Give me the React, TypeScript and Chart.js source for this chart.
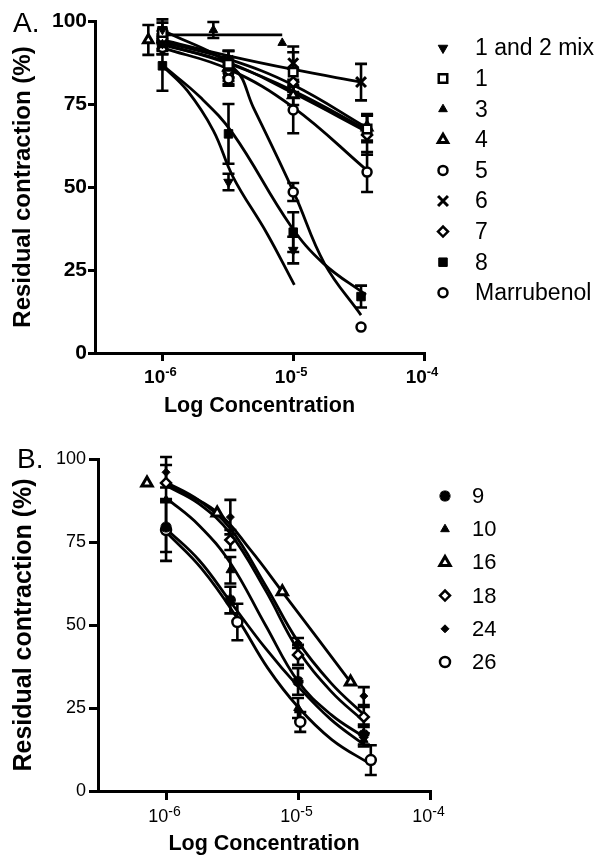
import React, { useEffect, useRef } from 'react';
import { Chart, registerables } from 'chart.js';
import { drawPoint } from 'chart.js/helpers';

Chart.register(...registerables);

const FONT = "'Liberation Sans', Arial, Helvetica, sans-serif";
Chart.defaults.font.family = FONT;
Chart.defaults.color = '#000';

// ---------- shared axis data ----------
const X_MIN = 3.05e-7;
const X_MAX = 1e-4;
const X_TICKS = [1e-6, 1e-5, 1e-4];
const X_TICK_BASE = '10';
const X_TICK_EXP = ['-6', '-5', '-4'];
const Y_TICKS = [0, 25, 50, 75, 100];
const Y_TITLE = 'Residual contraction (%)';
const X_TITLE = 'Log Concentration';

// ---------- Panel A data ----------
const A_MIX_X = [1e-6, 3.2e-6, 1e-5];
const A_MIX_Y = [97.5, 51.5, 31];
const A_MIX_ERR = [3, 2.5, 4];
const A_MIX_FIT_X = [1e-6, 1.55e-6, 2.45e-6, 3.47e-6, 6.3e-6, 1.02e-5];
const A_MIX_FIT_Y = [86.5, 79, 67, 53, 36, 20.5];

const A_C1_X = [1e-6, 3.2e-6, 1e-5, 3.67e-5];
const A_C1_Y = [96.5, 87, 84.6, 67.5];
const A_C1_ERR = [3, 4, 6, 4];
const A_C1_FIT_X = [1e-6, 3.2e-6, 1e-5, 3.67e-5];
const A_C1_FIT_Y = [93.7, 88.5, 80.7, 67.8];

const A_C3_X = [1e-6, 2.45e-6, 8.24e-6];
const A_C3_Y = [93, 97.3, 93.4];
const A_C3_ERR = [3, 2.4, 0];
const A_C3_FIT_X = [1e-6, 8.24e-6];
const A_C3_FIT_Y = [95.8, 95.8];

const A_C4_X = [7.8e-7, 3.2e-6, 1e-5, 3.67e-5];
const A_C4_Y = [94.3, 86, 77.7, 68];
const A_C4_ERR = [4.5, 3, 3, 4];
const A_C4_FIT_X = [1e-6, 3.2e-6, 1e-5, 3.67e-5];
const A_C4_FIT_Y = [93.2, 87.2, 79, 67.2];

const A_C5_X = [1e-6, 3.2e-6, 1e-5, 3.3e-5];
const A_C5_Y = [95, 82.5, 48.5, 7.8];
const A_C5_ERR = [2, 2, 2.7, 0];
const A_C5_FIT_X = [1e-6, 3.48e-6, 4.95e-6, 1.02e-5, 1.73e-5, 3.3e-5];
const A_C5_FIT_Y = [97.3, 86, 74, 48, 27, 11.4];

const A_C6_X = [1e-6, 3.2e-6, 1e-5, 3.3e-5];
const A_C6_Y = [93, 88, 87.3, 81.6];
const A_C6_ERR = [2, 3, 5, 5.5];
const A_C6_FIT_X = [1e-6, 3.2e-6, 1e-5, 3.3e-5];
const A_C6_FIT_Y = [94.3, 89.5, 85.4, 81.6];

const A_C7_X = [1e-6, 3.2e-6, 1e-5, 3.67e-5];
const A_C7_Y = [93.5, 85, 81.6, 65.7];
const A_C7_ERR = [2, 3, 4, 6];
const A_C7_FIT_X = [1e-6, 3.2e-6, 1e-5, 3.67e-5];
const A_C7_FIT_Y = [92.8, 87.5, 78.3, 66.6];

const A_C8_X = [1e-6, 3.2e-6, 1e-5, 3.3e-5];
const A_C8_Y = [86.5, 66, 36.4, 17];
const A_C8_ERR = [7.5, 9, 6, 3.3];
const A_C8_FIT_X = [1e-6, 1.95e-6, 3.47e-6, 9.5e-6, 1.7e-5, 3.6e-5];
const A_C8_FIT_Y = [86.7, 77, 66, 38.5, 27, 17.5];

const A_MAR_X = [1e-6, 3.2e-6, 1e-5, 3.67e-5];
const A_MAR_Y = [92, 84, 73.2, 54.5];
const A_MAR_ERR = [2, 3, 7, 6];
const A_MAR_FIT_X = [1e-6, 3.2e-6, 1e-5, 3.67e-5];
const A_MAR_FIT_Y = [91.9, 85.5, 74, 55];

// ---------- Panel B data ----------
const B_C9_X = [1e-6, 3.07e-6, 1e-5, 3.15e-5];
const B_C9_Y = [79.5, 57.5, 33, 17];
const B_C9_ERR = [7.5, 4, 4, 3];
const B_C9_FIT_X = [1e-6, 1.78e-6, 3.07e-6, 5.66e-6, 1e-5, 1.78e-5, 3.15e-5];
const B_C9_FIT_Y = [79, 69.5, 57, 43, 31.5, 21.5, 14];

const B_C10_X = [1e-6, 3.07e-6, 1e-5, 3.15e-5];
const B_C10_Y = [87.7, 66.5, 25, 15.4];
const B_C10_ERR = [0, 4, 3, 2];
const B_C10_FIT_X = [1e-6, 1.78e-6, 3.07e-6, 5.66e-6, 1e-5, 1.78e-5, 3.15e-5];
const B_C10_FIT_Y = [88.3, 80, 68.7, 50, 33, 23, 16.3];

const B_C16_X = [7.17e-7, 2.44e-6, 7.6e-6, 2.5e-5];
const B_C16_Y = [92.8, 83.7, 60, 32.8];
const B_C16_ERR = [0, 0, 0, 0];
const B_C16_FIT_X = [1e-6, 2.44e-6, 4.36e-6, 7.6e-6, 2.5e-5];
const B_C16_FIT_Y = [92.5, 84, 72.6, 60, 32.8];

const B_C18_X = [1e-6, 3.07e-6, 1e-5, 3.15e-5];
const B_C18_Y = [92.8, 75.6, 41, 22.3];
const B_C18_ERR = [5.4, 3, 3, 3];
const B_C18_FIT_X = [1e-6, 1.78e-6, 3.07e-6, 5.66e-6, 1e-5, 1.78e-5, 3.15e-5];
const B_C18_FIT_Y = [92, 86.5, 77.5, 60.5, 42.5, 30, 21];

const B_C24_X = [1e-6, 3.07e-6, 1e-5, 3.15e-5];
const B_C24_Y = [96, 82.5, 44.6, 28.6];
const B_C24_ERR = [4.6, 5.2, 1.5, 2.7];
const B_C24_FIT_X = [1e-6, 1.78e-6, 3.07e-6, 5.66e-6, 1e-5, 1.78e-5, 3.15e-5];
const B_C24_FIT_Y = [93, 87.5, 79, 62, 45, 32.5, 23];

const B_C26_X = [1e-6, 3.47e-6, 1.04e-5, 3.56e-5];
const B_C26_Y = [78.6, 50.9, 20.8, 9.3];
const B_C26_ERR = [9.3, 5.5, 3, 4.5];
const B_C26_FIT_X = [1e-6, 1.86e-6, 3.47e-6, 5.9e-6, 1e-5, 1.8e-5, 3.56e-5];
const B_C26_FIT_Y = [78, 67, 52, 37, 25.3, 15.5, 8];

// ---------- builders ----------
function markerDs(label: string, xs: number[], ys: number[], errs: number[], style: string, fill: boolean, r: number, bw: number, rot = 0): any {
  return {
    type: 'scatter',
    label,
    data: xs.map((x, i) => ({ x, y: ys[i] })),
    errors: errs,
    legendItem: true,
    showLine: false,
    pointStyle: style,
    pointRadius: r,
    pointRotation: rot,
    pointBackgroundColor: fill ? '#000' : '#fff',
    pointBorderColor: '#000',
    pointBorderWidth: bw,
    backgroundColor: fill ? '#000' : '#fff',
    borderColor: '#000',
    order: 0,
    clip: false,
  };
}

function fitDs(xs: number[], ys: number[]): any {
  return {
    type: 'line',
    label: '',
    data: xs.map((x, i) => ({ x, y: ys[i] })),
    borderColor: '#000',
    borderWidth: 2.8,
    pointRadius: 0,
    fill: false,
    tension: 0.4,
    order: 1,
    clip: false,
  };
}

const errorBarPlugin = {
  id: 'errorBars',
  beforeDatasetsDraw(chart: any) {
    const ctx = chart.ctx;
    const xs = chart.scales.x;
    const ys = chart.scales.y;
    ctx.save();
    ctx.strokeStyle = '#000';
    ctx.lineWidth = 2.6;
    const cap = 6;
    chart.data.datasets.forEach((ds: any) => {
      if (!ds.errors) return;
      ds.data.forEach((p: any, i: number) => {
        const e = ds.errors[i];
        if (!e) return;
        const px = xs.getPixelForValue(p.x);
        const y1 = ys.getPixelForValue(p.y + e);
        const y2 = ys.getPixelForValue(p.y - e);
        ctx.beginPath();
        ctx.moveTo(px, y1);
        ctx.lineTo(px, y2);
        ctx.moveTo(px - cap, y1);
        ctx.lineTo(px + cap, y1);
        ctx.moveTo(px - cap, y2);
        ctx.lineTo(px + cap, y2);
        ctx.stroke();
      });
    });
    ctx.restore();
  },
};

function decorPlugin(p: any) {
  return {
    id: 'decor' + p.panel,
    afterDraw(chart: any) {
      const ctx = chart.ctx;
      const xs = chart.scales.x;
      ctx.save();
      ctx.fillStyle = '#000';
      ctx.textBaseline = 'alphabetic';
      ctx.textAlign = 'left';
      // x tick labels with superscripts
      X_TICKS.forEach((v, i) => {
        const px = xs.getPixelForValue(v);
        ctx.font = p.baseFont;
        const w1 = ctx.measureText(X_TICK_BASE).width;
        ctx.font = p.supFont;
        const w2 = ctx.measureText(X_TICK_EXP[i]).width;
        const x0 = px - (w1 + w2) / 2 + p.labelShift;
        ctx.font = p.baseFont;
        ctx.fillText(X_TICK_BASE, x0, p.baseY);
        ctx.font = p.supFont;
        ctx.fillText(X_TICK_EXP[i], x0 + w1, p.supY);
      });
      // panel letter
      ctx.font = p.panelFont;
      ctx.fillText(p.panel + '.', p.panelX, p.panelY);
      // legend
      let k = 0;
      ctx.textBaseline = 'middle';
      chart.data.datasets.forEach((ds: any) => {
        if (!ds.legendItem) return;
        const y = p.legY0 + k * p.legDy;
        ctx.fillStyle = ds.pointBackgroundColor;
        ctx.strokeStyle = ds.pointBorderColor;
        ctx.lineWidth = ds.pointBorderWidth;
        drawPoint(ctx, {
          pointStyle: ds.pointStyle,
          radius: ds.pointRadius,
          rotation: ds.pointRotation,
          borderWidth: ds.pointBorderWidth,
        } as any, p.legX, y);
        ctx.fillStyle = '#000';
        ctx.font = p.legFont;
        ctx.fillText(ds.label, p.legTextX, y + 1);
        k++;
      });
      ctx.restore();
    },
  };
}

function buildConfig(datasets: any[], p: any): any {
  return {
    type: 'scatter',
    data: { datasets },
    plugins: [errorBarPlugin, decorPlugin(p)],
    options: {
      animation: false,
      responsive: false,
      devicePixelRatio: 1,
      layout: { padding: { left: 0, top: p.padTop, right: p.padRight, bottom: 0 } },
      plugins: { legend: { display: false }, tooltip: { enabled: false } },
      scales: {
        x: {
          type: 'logarithmic',
          min: X_MIN,
          max: X_MAX,
          afterBuildTicks: (s: any) => { s.ticks = X_TICKS.map((v) => ({ value: v })); },
          afterFit: (s: any) => { s.height = p.xHeight; },
          ticks: { display: false },
          grid: { drawOnChartArea: false, drawTicks: true, tickLength: p.xTickLen, lineWidth: 3, color: '#000' },
          border: { display: true, color: '#000', width: 3 },
          title: {
            display: true,
            text: X_TITLE,
            color: '#000',
            font: { size: 21.5, weight: 'bold', family: FONT },
            padding: { top: 0, bottom: p.xTitlePad },
          },
        },
        y: {
          type: 'linear',
          min: 0,
          max: 100,
          afterBuildTicks: (s: any) => { s.ticks = Y_TICKS.map((v) => ({ value: v })); },
          afterFit: (s: any) => { s.width = p.yWidth; },
          ticks: { color: '#000', font: p.yTickFont, padding: p.yTickPad },
          grid: { drawOnChartArea: false, drawTicks: true, tickLength: p.yTickLen, lineWidth: 3, color: '#000' },
          border: { display: true, color: '#000', width: 3 },
          title: {
            display: true,
            text: Y_TITLE,
            color: '#000',
            font: { size: p.yTitleSize, weight: 'bold', family: FONT },
            padding: { top: p.yTitlePad, bottom: 0 },
          },
        },
      },
    },
  };
}

function panelA() {
  const ds = [
    markerDs('1 and 2 mix', A_MIX_X, A_MIX_Y, A_MIX_ERR, 'triangle', true, 5.5, 1, 180),
    markerDs('1', A_C1_X, A_C1_Y, A_C1_ERR, 'rect', false, 6, 2.5),
    markerDs('3', A_C3_X, A_C3_Y, A_C3_ERR, 'triangle', true, 5, 1),
    markerDs('4', A_C4_X, A_C4_Y, A_C4_ERR, 'triangle', false, 5.5, 3),
    markerDs('5', A_C5_X, A_C5_Y, A_C5_ERR, 'circle', false, 4.5, 2.5),
    markerDs('6', A_C6_X, A_C6_Y, A_C6_ERR, 'crossRot', false, 7, 3),
    markerDs('7', A_C7_X, A_C7_Y, A_C7_ERR, 'rectRot', false, 5, 2.5),
    markerDs('8', A_C8_X, A_C8_Y, A_C8_ERR, 'rect', true, 6, 1),
    markerDs('Marrubenol', A_MAR_X, A_MAR_Y, A_MAR_ERR, 'circle', false, 4.5, 2.5),
    fitDs(A_MIX_FIT_X, A_MIX_FIT_Y),
    fitDs(A_C1_FIT_X, A_C1_FIT_Y),
    fitDs(A_C3_FIT_X, A_C3_FIT_Y),
    fitDs(A_C4_FIT_X, A_C4_FIT_Y),
    fitDs(A_C5_FIT_X, A_C5_FIT_Y),
    fitDs(A_C6_FIT_X, A_C6_FIT_Y),
    fitDs(A_C7_FIT_X, A_C7_FIT_Y),
    fitDs(A_C8_FIT_X, A_C8_FIT_Y),
    fitDs(A_MAR_FIT_X, A_MAR_FIT_Y),
  ];
  return buildConfig(ds, {
    panel: 'A',
    padTop: 21,
    padRight: 174,
    yWidth: 95,
    xHeight: 77,
    xTickLen: 8,
    yTickLen: 7,
    yTickPad: 1,
    yTickFont: { size: 21, weight: 'bold', family: FONT },
    yTitleSize: 24,
    yTitlePad: 8.6,
    xTitlePad: 10.6,
    baseFont: `bold 19px ${FONT}`,
    supFont: `bold 13px ${FONT}`,
    baseY: 383,
    supY: 376,
    labelShift: -2,
    panelFont: `28px ${FONT}`,
    panelX: 13,
    panelY: 32,
    legX: 443,
    legTextX: 475,
    legY0: 48,
    legDy: 30.6,
    legFont: `23px ${FONT}`,
  });
}

function panelB() {
  const ds = [
    markerDs('9', B_C9_X, B_C9_Y, B_C9_ERR, 'star', true, 5.5, 3.5),
    markerDs('10', B_C10_X, B_C10_Y, B_C10_ERR, 'triangle', true, 5, 1),
    markerDs('16', B_C16_X, B_C16_Y, B_C16_ERR, 'triangle', false, 6, 3),
    markerDs('18', B_C18_X, B_C18_Y, B_C18_ERR, 'rectRot', false, 5, 2.5),
    markerDs('24', B_C24_X, B_C24_Y, B_C24_ERR, 'rectRot', true, 4, 1),
    markerDs('26', B_C26_X, B_C26_Y, B_C26_ERR, 'circle', false, 5, 2.5),
    fitDs(B_C9_FIT_X, B_C9_FIT_Y),
    fitDs(B_C10_FIT_X, B_C10_FIT_Y),
    fitDs(B_C16_FIT_X, B_C16_FIT_Y),
    fitDs(B_C18_FIT_X, B_C18_FIT_Y),
    fitDs(B_C24_FIT_X, B_C24_FIT_Y),
    fitDs(B_C26_FIT_X, B_C26_FIT_Y),
  ];
  return buildConfig(ds, {
    panel: 'B',
    padTop: 29,
    padRight: 168,
    yWidth: 98,
    xHeight: 68,
    xTickLen: 9,
    yTickLen: 9,
    yTickPad: 3,
    yTickFont: { size: 18, weight: 'normal', family: FONT },
    yTitleSize: 25,
    yTitlePad: 9,
    xTitlePad: 1.6,
    baseFont: `18px ${FONT}`,
    supFont: `14px ${FONT}`,
    baseY: 392,
    supY: 386,
    labelShift: -1.5,
    panelFont: `28px ${FONT}`,
    panelX: 17,
    panelY: 38,
    legX: 445,
    legTextX: 472,
    legY0: 66,
    legDy: 33.2,
    legFont: `22px ${FONT}`,
  });
}

function Panel({ build, top, height }: { build: () => any; top: number; height: number }) {
  const ref = useRef<HTMLCanvasElement | null>(null);
  useEffect(() => {
    if (!ref.current) return;
    const chart = new Chart(ref.current, build());
    return () => chart.destroy();
  }, []);
  return (
    <canvas
      ref={ref}
      width={598}
      height={height}
      style={{ position: 'absolute', left: 0, top, width: 598, height, display: 'block' }}
    />
  );
}

export default function App() {
  return (
    <div style={{ position: 'absolute', left: 0, top: 0, width: 598, height: 859, background: '#fff' }}>
      <Panel build={panelA} top={0} height={430} />
      <Panel build={panelB} top={430} height={429} />
    </div>
  );
}
